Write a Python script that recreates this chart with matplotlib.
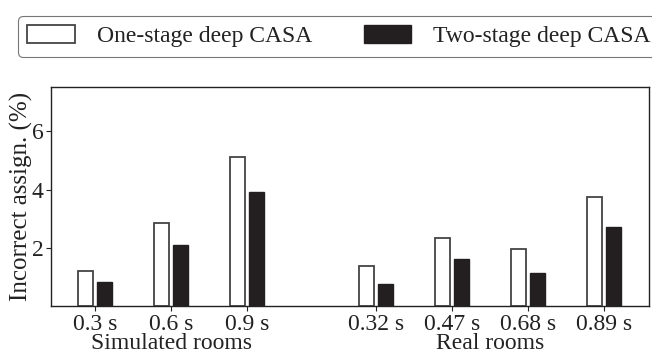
import matplotlib.pyplot as plt
import numpy as np
from matplotlib.patches import Patch

plt.rcParams['font.family'] = ['Liberation Serif', 'DejaVu Serif']

# reverberation times, grouped by room type
sim_labels = ['0.3 s', '0.6 s', '0.9 s']
real_labels = ['0.32 s', '0.47 s', '0.68 s', '0.89 s']
one_stage = [1.2, 2.87, 5.13, 1.38, 2.34, 1.95, 3.76]
two_stage = [0.83, 2.1, 3.93, 0.77, 1.62, 1.12, 2.72]
group_names = ['Simulated rooms', 'Real rooms']

pos = np.concatenate([np.arange(3), np.arange(4) + 3.7])
w = 0.19
off = 0.125

fig = plt.figure(figsize=(6.52, 3.53), dpi=100)
ax = fig.add_axes([51/652, 1 - 306/353, 598/652, 219/353])

ax.bar(pos - off, one_stage, w, color='white', edgecolor='#444444', linewidth=1.3)
ax.bar(pos + off, two_stage, w, color='#231f20', edgecolor='#231f20', linewidth=1.0)

ax.set_xlim(-0.58, 7.29)
ax.set_ylim(0, 7.53)
ax.set_yticks([2, 4, 6])
ax.set_xticks(pos)
ax.set_xticklabels(sim_labels + real_labels)
ax.tick_params(labelsize=17, length=3.5, width=0.8, colors='#222222', pad=2)
for s in ax.spines.values():
    s.set_linewidth(1.0)
    s.set_color('#222222')
ax.set_ylabel('Incorrect assign. (%)', fontsize=18, labelpad=-1, color='#222222')

ax.text(1, -43/219, group_names[0], transform=ax.get_xaxis_transform(),
        ha='center', va='baseline', fontsize=17, color='#222222')
ax.text(5.2, -43/219, group_names[1], transform=ax.get_xaxis_transform(),
        ha='center', va='baseline', fontsize=17, color='#222222')

handles = [Patch(facecolor='white', edgecolor='#444444', linewidth=1.3),
           Patch(facecolor='#231f20', edgecolor='#231f20')]
leg = fig.legend(handles, ['One-stage deep CASA', 'Two-stage deep CASA'],
                 loc='upper left', bbox_to_anchor=(18/652, 1 - 16/353),
                 borderaxespad=0, ncol=2, fontsize=17, frameon=True, fancybox=True,
                 handlelength=2.0, handleheight=0.75, columnspacing=2.2,
                 handletextpad=0.93, borderpad=0.4, edgecolor='#555555')
leg.get_frame().set_linewidth(0.8)
for t in leg.get_texts():
    t.set_color('#222222')

fig.savefig('out.png', dpi=100)
